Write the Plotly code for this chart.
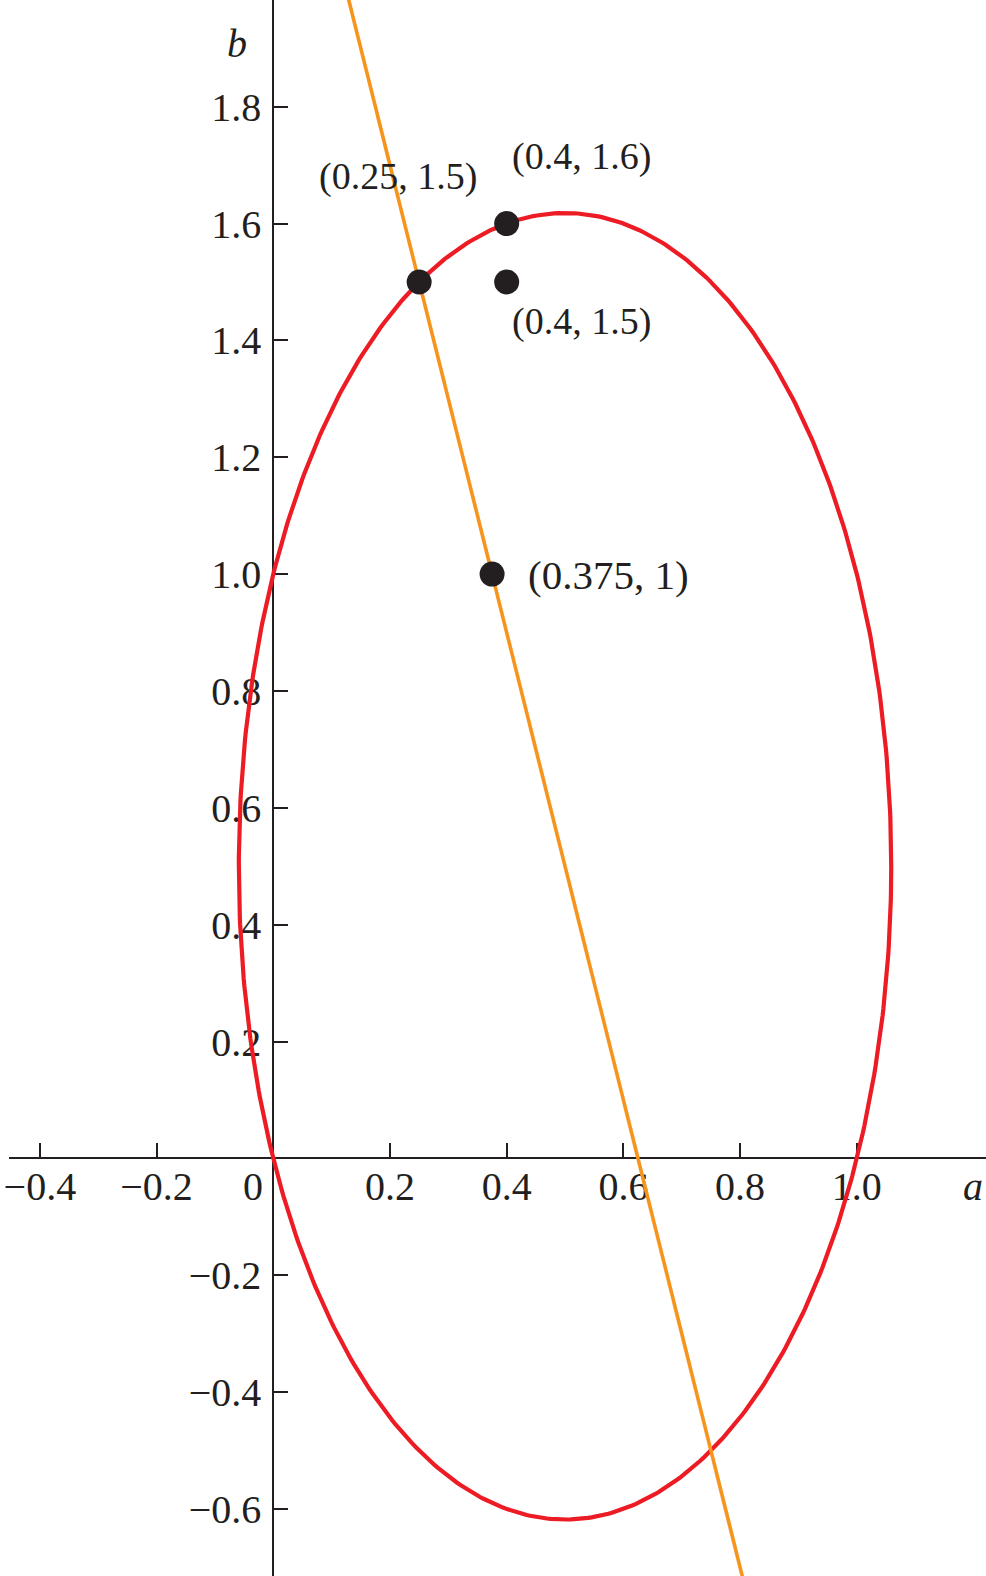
import numpy as np
import plotly.graph_objects as go

# data
point_a = [0.25, 0.4, 0.4, 0.375]
point_b = [1.5, 1.6, 1.5, 1.0]
point_labels = ["(0.25, 1.5)", "(0.4, 1.6)", "(0.4, 1.5)", "(0.375, 1)"]

# ellipse 4(a-0.5)^2 + (b-0.5)^2 = 1.25
ellipse_center = (0.5, 0.5)
ellipse_radii = (np.sqrt(1.25 / 4), np.sqrt(1.25))

# line b = -4a + 2.5
line_slope = -4.0
line_intercept = 2.5

x_ticks = [-0.4, -0.2, 0.2, 0.4, 0.6, 0.8, 1.0]
x_tick_labels = ["\u22120.4", "\u22120.2", "0.2", "0.4", "0.6", "0.8", "1.0"]
y_ticks = [-0.6, -0.4, -0.2, 0.2, 0.4, 0.6, 0.8, 1.0, 1.2, 1.4, 1.6, 1.8]
y_tick_labels = ["\u22120.6", "\u22120.4", "\u22120.2", "0.2", "0.4", "0.6", "0.8",
                 "1.0", "1.2", "1.4", "1.6", "1.8"]

x_range = [-0.4524, 1.2214]
y_range = [-0.7147, 1.9826]
x_domain = [0.0094, 1.0]

RED = "#ED1C24"
ORANGE = "#F7941E"
INK = "#231F20"
FONT = "Liberation Serif"

t = np.linspace(0, 2 * np.pi, 600)
ell_a = ellipse_center[0] + ellipse_radii[0] * np.cos(t)
ell_b = ellipse_center[1] + ellipse_radii[1] * np.sin(t)

line_a = np.array(x_range)
line_b = line_slope * line_a + line_intercept

fig = go.Figure()
fig.add_trace(go.Scatter(x=ell_a, y=ell_b, mode="lines",
                         line=dict(color=RED, width=4.2), hoverinfo="skip"))
fig.add_trace(go.Scatter(x=line_a, y=line_b, mode="lines",
                         line=dict(color=ORANGE, width=3.6), hoverinfo="skip"))
fig.add_trace(go.Scatter(x=point_a, y=point_b, mode="markers",
                         marker=dict(color=INK, size=25)))

# point labels (pixel offsets from each point)
offsets = [(-21, 105), (75, 67), (75, -40), (116, -1)]
label_sizes = [38, 38, 38, 41]
for a, b, txt, (dx, dy), fs in zip(point_a, point_b, point_labels, offsets, label_sizes):
    fig.add_annotation(x=a, y=b, text=txt, showarrow=False, xshift=dx, yshift=dy,
                       xanchor="center", yanchor="middle",
                       font=dict(family=FONT, size=fs, color=INK))

# origin "0" label and axis names
fig.add_annotation(x=0, y=0, text="0", showarrow=False, xanchor="right", yanchor="top",
                   xshift=-8, yshift=-4, font=dict(family=FONT, size=40, color=INK))
fig.add_annotation(x=0, y=y_range[1], text="<i>b</i>", showarrow=False,
                   xanchor="center", yanchor="middle", xshift=-36, yshift=-43,
                   font=dict(family=FONT, size=40, color=INK))
fig.add_annotation(x=x_range[1], y=0, text="<i>a</i>", showarrow=False,
                   xanchor="right", yanchor="middle", xshift=-1, yshift=-28,
                   font=dict(family=FONT, size=40, color=INK))

y_pos = (0 - y_range[0]) / (y_range[1] - y_range[0])
x_pos = x_domain[0] + (0 - x_range[0]) / (x_range[1] - x_range[0]) * (x_domain[1] - x_domain[0])

fig.update_layout(
    width=986, height=1576,
    margin=dict(l=0, r=0, t=0, b=0),
    paper_bgcolor="white", plot_bgcolor="white",
    showlegend=False,
    xaxis=dict(range=x_range, domain=x_domain, anchor="free", position=y_pos,
               automargin=False,
               showgrid=False, zeroline=False, showline=True, linecolor=INK, linewidth=2,
               ticks="inside", ticklen=14, tickwidth=2, tickcolor=INK,
               tickvals=x_ticks, ticktext=x_tick_labels, layer="below traces",
               ticklabelstandoff=-7,
               tickfont=dict(family=FONT, size=40, color=INK)),
    yaxis=dict(range=y_range, domain=[0, 1], anchor="free", position=x_pos,
               automargin=False,
               showgrid=False, zeroline=False, showline=True, linecolor=INK, linewidth=2,
               ticks="inside", ticklen=14, tickwidth=2, tickcolor=INK,
               tickvals=y_ticks, ticktext=y_tick_labels, layer="below traces",
               ticklabelstandoff=3,
               tickfont=dict(family=FONT, size=40, color=INK)),
)

fig.write_html("out.html", config={"displayModeBar": False},
               post_script="document.body.style.margin='0';")
